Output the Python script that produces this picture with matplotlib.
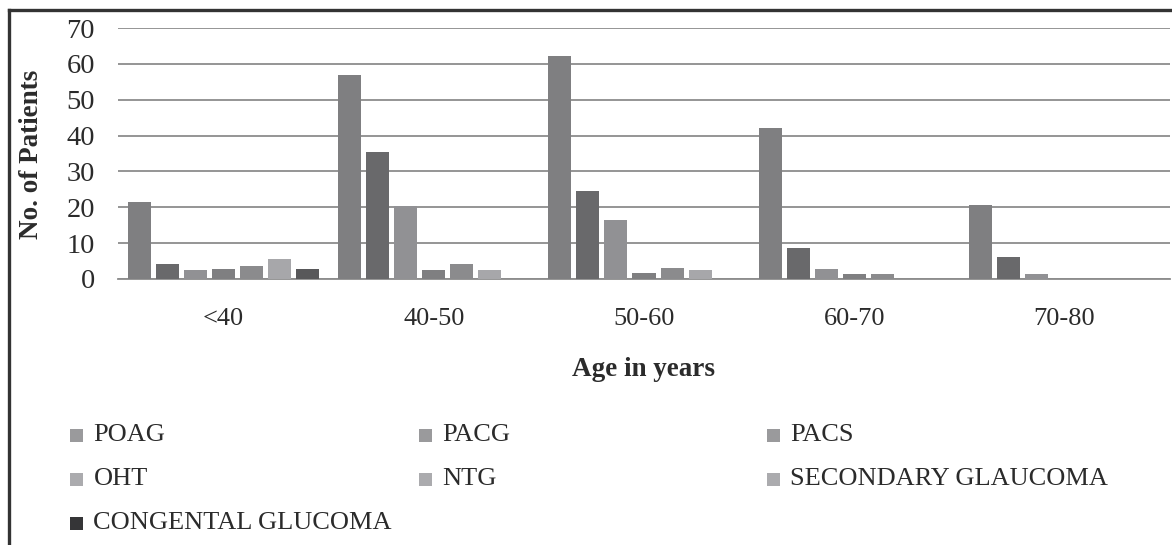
import numpy as np
import matplotlib
matplotlib.use("Agg")
import matplotlib.pyplot as plt
from matplotlib.patches import Rectangle
from matplotlib.lines import Line2D

plt.rcParams['font.family'] = ['Liberation Serif', 'DejaVu Serif']

# data
age_groups = ["<40", "40-50", "50-60", "60-70", "70-80"]
series = ["POAG", "PACG", "PACS", "OHT", "NTG",
          "SECONDARY GLAUCOMA", "CONGENTAL GLUCOMA"]
poag = [21.5, 56.9, 62.2, 42.1, 20.6]
pacg = [4.2, 35.4, 24.5, 8.6, 6.1]
pacs = [2.5, 20.4, 16.5, 2.8, 1.4]
oht = [2.8, 2.5, 1.7, 1.4, 0]
ntg = [3.6, 4.2, 3.1, 1.4, 0]
secondary = [5.6, 2.5, 2.5, 0, 0]
congenital = [2.8, 0, 0, 0, 0]
values = [poag, pacg, pacs, oht, ntg, secondary, congenital]

colors = ["#7f7f81", "#69696b", "#919194", "#7f7f81",
          "#8b8b8d", "#a7a7aa", "#58585a"]
legend_colors = ["#9a9a9c", "#9a9a9c", "#9a9a9c", "#ababae",
                 "#ababae", "#ababae", "#353537"]
text_color = "#2b2b2b"

W, H = 1172, 545
fig = plt.figure(figsize=(W / 100, H / 100), dpi=100)
ax = fig.add_axes([118.4 / W, 1 - 279 / H, (1169.6 - 118.4) / W, (279 - 28) / H])

x = np.arange(len(age_groups))
step = 0.1332
width = 0.1094
for i, (name, vals) in enumerate(zip(series, values)):
    ax.bar(x + (i - 3) * step, vals, width, color=colors[i], label=name, zorder=3)

ax.set_xlim(-0.5, len(age_groups) - 0.5)
ax.set_ylim(0, 70)
ax.set_yticks(range(0, 71, 10))
ax.set_xticks(x)
ax.set_xticklabels(age_groups)
ax.grid(axis='y', color='#8c8c8c', linewidth=1.3, zorder=0)
for s in ['top', 'right', 'left']:
    ax.spines[s].set_visible(False)
ax.spines['bottom'].set_color('#8c8c8c')
ax.spines['bottom'].set_linewidth(1.3)
ax.tick_params(axis='y', length=0, pad=17, labelsize=20.5, labelcolor=text_color)
ax.tick_params(axis='x', length=0, pad=21, labelsize=19, labelcolor=text_color)

fig.text(644 / W, 1 - 370 / H, "Age in years", ha='center', va='center',
         fontsize=19.5, fontweight='bold', color=text_color)
fig.text(32 / W, 1 - 154 / H, "No. of Patients", ha='center', va='center',
         rotation=90, fontsize=19.5, fontweight='bold', color=text_color)

# legend laid out row by row like the original
for i, name in enumerate(series):
    row, col = divmod(i, 3)
    mx = 70 + col * 348.5
    my = 435 + row * 44
    fig.patches.append(Rectangle((mx / W, 1 - (my + 6.5) / H), 13 / W, 13 / H,
                                 transform=fig.transFigure,
                                 facecolor=legend_colors[i], edgecolor='none'))
    fig.text((mx + 23.5) / W, 1 - my / H, name, ha='left', va='center',
             fontsize=19, color=text_color)

# outer frame (only top and left edges fall inside the picture)
fig.lines.append(Line2D([8.5 / W, 1], [1 - 9.5 / H, 1 - 9.5 / H],
                        transform=fig.transFigure, color='#333333', linewidth=2.4))
fig.lines.append(Line2D([8.5 / W, 8.5 / W], [0, 1 - 9.5 / H],
                        transform=fig.transFigure, color='#333333', linewidth=2.4))

fig.savefig("out.png", dpi=100)
